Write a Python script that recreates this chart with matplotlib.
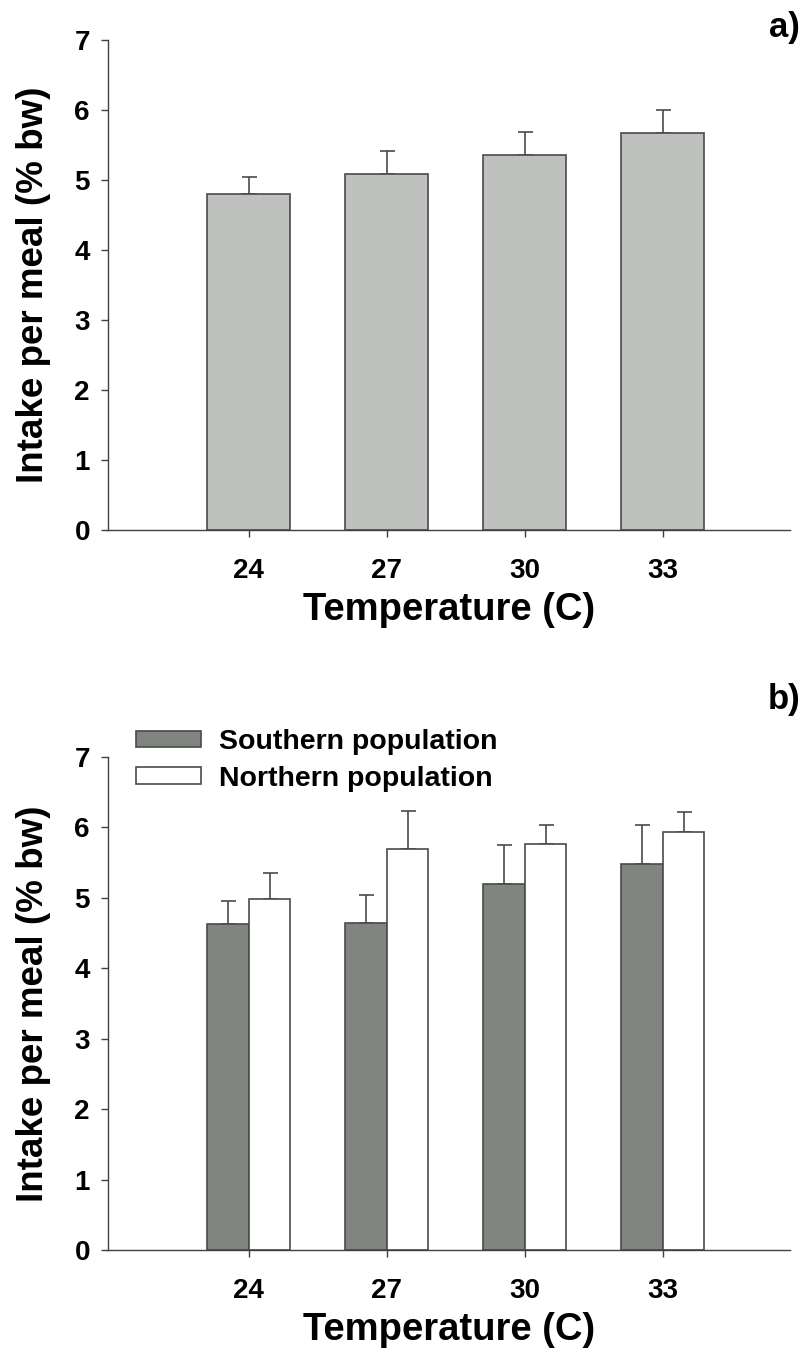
import numpy as np
import matplotlib
matplotlib.use("Agg")
import matplotlib.pyplot as plt

plt.rcParams['font.family'] = ['Liberation Sans', 'DejaVu Sans']
plt.rcParams['font.weight'] = 'bold'

# Data
temps = ['24', '27', '30', '33']
pooled_mean = [4.80, 5.08, 5.36, 5.67]
pooled_se = [0.24, 0.33, 0.33, 0.33]
south_mean = [4.63, 4.65, 5.20, 5.48]
south_se = [0.33, 0.39, 0.55, 0.55]
north_mean = [4.98, 5.70, 5.77, 5.94]
north_se = [0.38, 0.53, 0.26, 0.28]

edge = '#4a4a4a'
x = np.arange(len(temps))

fig = plt.figure(figsize=(8.05, 13.67), dpi=100)
ax1 = fig.add_axes([0.1342, 0.6123, 0.847, 0.3584])
ax2 = fig.add_axes([0.1342, 0.0856, 0.847, 0.3606])


def style(ax):
    ax.set_xlim(-1.02, 3.92)
    ax.set_ylim(0, 7)
    ax.set_yticks(range(8))
    ax.set_xticks(x)
    ax.set_xticklabels(temps)
    for s in ['top', 'right']:
        ax.spines[s].set_visible(False)
    for s in ['left', 'bottom']:
        ax.spines[s].set_color('#404040')
        ax.spines[s].set_linewidth(1.0)
    ax.tick_params(axis='both', direction='out', length=5, width=1,
                   color='#404040', labelsize=20)
    ax.tick_params(axis='x', pad=15)
    ax.tick_params(axis='y', pad=8)
    ax.set_xlabel('Temperature (C)', fontsize=27.5, fontweight='bold', labelpad=6)
    ax.set_ylabel('Intake per meal (% bw)', fontsize=26.5, fontweight='bold', labelpad=17)


# Panel a
ax1.bar(x, pooled_mean, width=0.6, color='#bec1bd', edgecolor=edge, linewidth=1.2, zorder=2)
ax1.errorbar(x, pooled_mean, yerr=[np.zeros(4), pooled_se], fmt='none',
             ecolor=edge, elinewidth=1.2, capsize=5.4, capthick=1.2, zorder=1)
style(ax1)

# Panel b
ax2.bar(x - 0.3, south_mean, width=0.3, align='edge', color='#80857f',
        edgecolor=edge, linewidth=1.2, zorder=2, label='Southern population')
ax2.bar(x, north_mean, width=0.3, align='edge', color='white',
        edgecolor=edge, linewidth=1.2, zorder=2, label='Northern population')
ax2.errorbar(x - 0.15, south_mean, yerr=[np.zeros(4), south_se], fmt='none',
             ecolor=edge, elinewidth=1.2, capsize=5.4, capthick=1.2, zorder=1)
ax2.errorbar(x + 0.15, north_mean, yerr=[np.zeros(4), north_se], fmt='none',
             ecolor=edge, elinewidth=1.2, capsize=5.4, capthick=1.2, zorder=1)
style(ax2)

fig.legend(loc='upper left', bbox_to_anchor=(136 / 805, 1 - 729 / 1367),
           frameon=False, fontsize=20.5, handlelength=2.3, handleheight=0.5,
           handletextpad=0.6, labelspacing=0.37, borderpad=0, borderaxespad=0)

fig.text(0.994, 1 - 27 / 1367, 'a)', fontsize=25, fontweight='bold', ha='right', va='center')
fig.text(0.994, 1 - 700 / 1367, 'b)', fontsize=25, fontweight='bold', ha='right', va='center')

fig.savefig('out.png', dpi=100)
